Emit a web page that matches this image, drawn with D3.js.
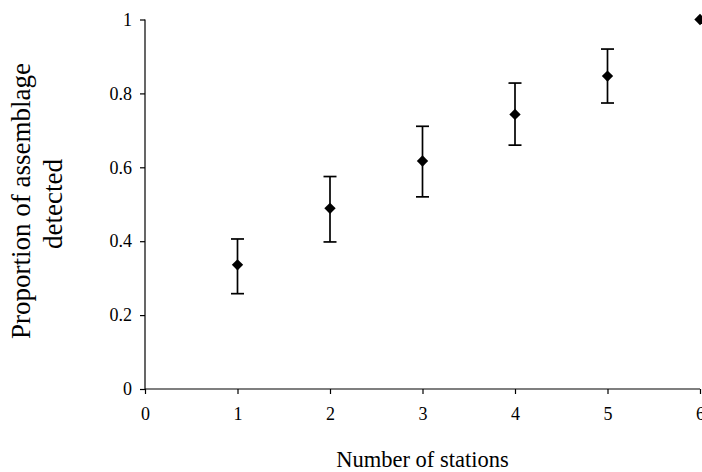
<!DOCTYPE html>
<html>
<head>
<meta charset="utf-8">
<script src="https://cdn.jsdelivr.net/npm/d3@7"></script>
<style>
  body { margin: 0; background: #fff; }
  svg { display: block; }
  text { font-family: "Liberation Serif", "Times New Roman", serif; fill: #000; }
</style>
</head>
<body>
<div id="chart"></div>
<script>
// Data
const stations = [1, 2, 3, 4, 5, 6];
const proportion = [0.336, 0.489, 0.617, 0.743, 0.847, 1.0];
const errLow = [0.258, 0.398, 0.520, 0.660, 0.774, 1.0];
const errHigh = [0.406, 0.575, 0.711, 0.828, 0.920, 1.0];
const xTicks = [0, 1, 2, 3, 4, 5, 6];
const yTicks = [0, 0.2, 0.4, 0.6, 0.8, 1];

function init() {
  const W = 702, H = 472;
  const margin = { top: 19.5, right: 2, bottom: 83, left: 145 };
  const height = H - margin.top - margin.bottom;

  const svg = d3.select("#chart")
    .append("svg")
      .attr("width", W)
      .attr("height", H);

  const g = svg.append("g")
    .attr("transform", `translate(${margin.left},${margin.top})`);

  const x = d3.scaleLinear().domain([0, 6]).range([0, 555]);
  const y = d3.scaleLinear().domain([0, 1]).range([height, 0]);

  // Axes
  const yAxis = g.append("g")
    .call(d3.axisLeft(y).tickValues(yTicks).tickSize(5).tickPadding(8)
      .tickFormat(d3.format("~g")));
  const xAxis = g.append("g")
    .attr("transform", `translate(0,${height})`)
    .call(d3.axisBottom(x).tickValues(xTicks).tickSize(5).tickPadding(13)
      .tickFormat(d3.format("d")));

  [yAxis, xAxis].forEach(a => {
    a.attr("font-family", null).attr("font-size", null);
    a.select(".domain").attr("stroke", "#000").attr("stroke-width", 1.2);
    a.selectAll(".tick line").attr("stroke", "#000").attr("stroke-width", 1.2);
    a.selectAll(".tick text")
      .style("font-family", "'Liberation Serif', serif")
      .style("font-size", "18px")
      .attr("fill", "#000");
  });
  // plain domain lines without outer ticks
  yAxis.select(".domain").attr("d", `M0,${y(1)}V${y(0)}`);
  xAxis.select(".domain").attr("d", `M${x(0)},0H${x(6)}`);

  const data = stations.map((s, i) => ({
    s, v: proportion[i], lo: errLow[i], hi: errHigh[i]
  }));

  // Error bars
  const eb = g.selectAll(".err")
    .data(data.filter(d => d.hi > d.lo))
    .enter().append("g")
      .attr("class", "err")
      .attr("stroke", "#000")
      .attr("stroke-width", 1.7);
  eb.append("line")
    .attr("x1", d => x(d.s)).attr("x2", d => x(d.s))
    .attr("y1", d => y(d.lo)).attr("y2", d => y(d.hi));
  eb.append("line")
    .attr("x1", d => x(d.s) - 6.5).attr("x2", d => x(d.s) + 6.5)
    .attr("y1", d => y(d.hi)).attr("y2", d => y(d.hi));
  eb.append("line")
    .attr("x1", d => x(d.s) - 6.5).attr("x2", d => x(d.s) + 6.5)
    .attr("y1", d => y(d.lo)).attr("y2", d => y(d.lo));

  // Diamond markers
  g.selectAll(".pt")
    .data(data)
    .enter().append("path")
      .attr("class", "pt")
      .attr("d", d3.symbol(d3.symbolSquare, 64))
      .attr("transform", d => `translate(${x(d.s)},${y(d.v)}) rotate(45)`)
      .attr("fill", "#000");

  // Axis titles
  svg.append("text")
    .attr("x", 422.5)
    .attr("y", 466.5)
    .attr("text-anchor", "middle")
    .style("font-size", "22.5px")
    .text("Number of stations");

  // y title box clips the end of the first line, as in the reference
  svg.append("clipPath").attr("id", "ytclip")
    .append("rect").attr("x", 0).attr("y", 63).attr("width", 80).attr("height", 330);

  const yt = svg.append("g")
    .attr("clip-path", "url(#ytclip)")
    .append("text")
    .attr("transform", "rotate(-90)")
    .attr("text-anchor", "middle")
    .style("font-size", "27px");
  yt.append("tspan").attr("x", -201).attr("y", 30).text("Proportion of assemblage");
  yt.append("tspan").attr("x", -204).attr("y", 62).text("detected");
}

window.onload = init;
</script>
</body>
</html>
